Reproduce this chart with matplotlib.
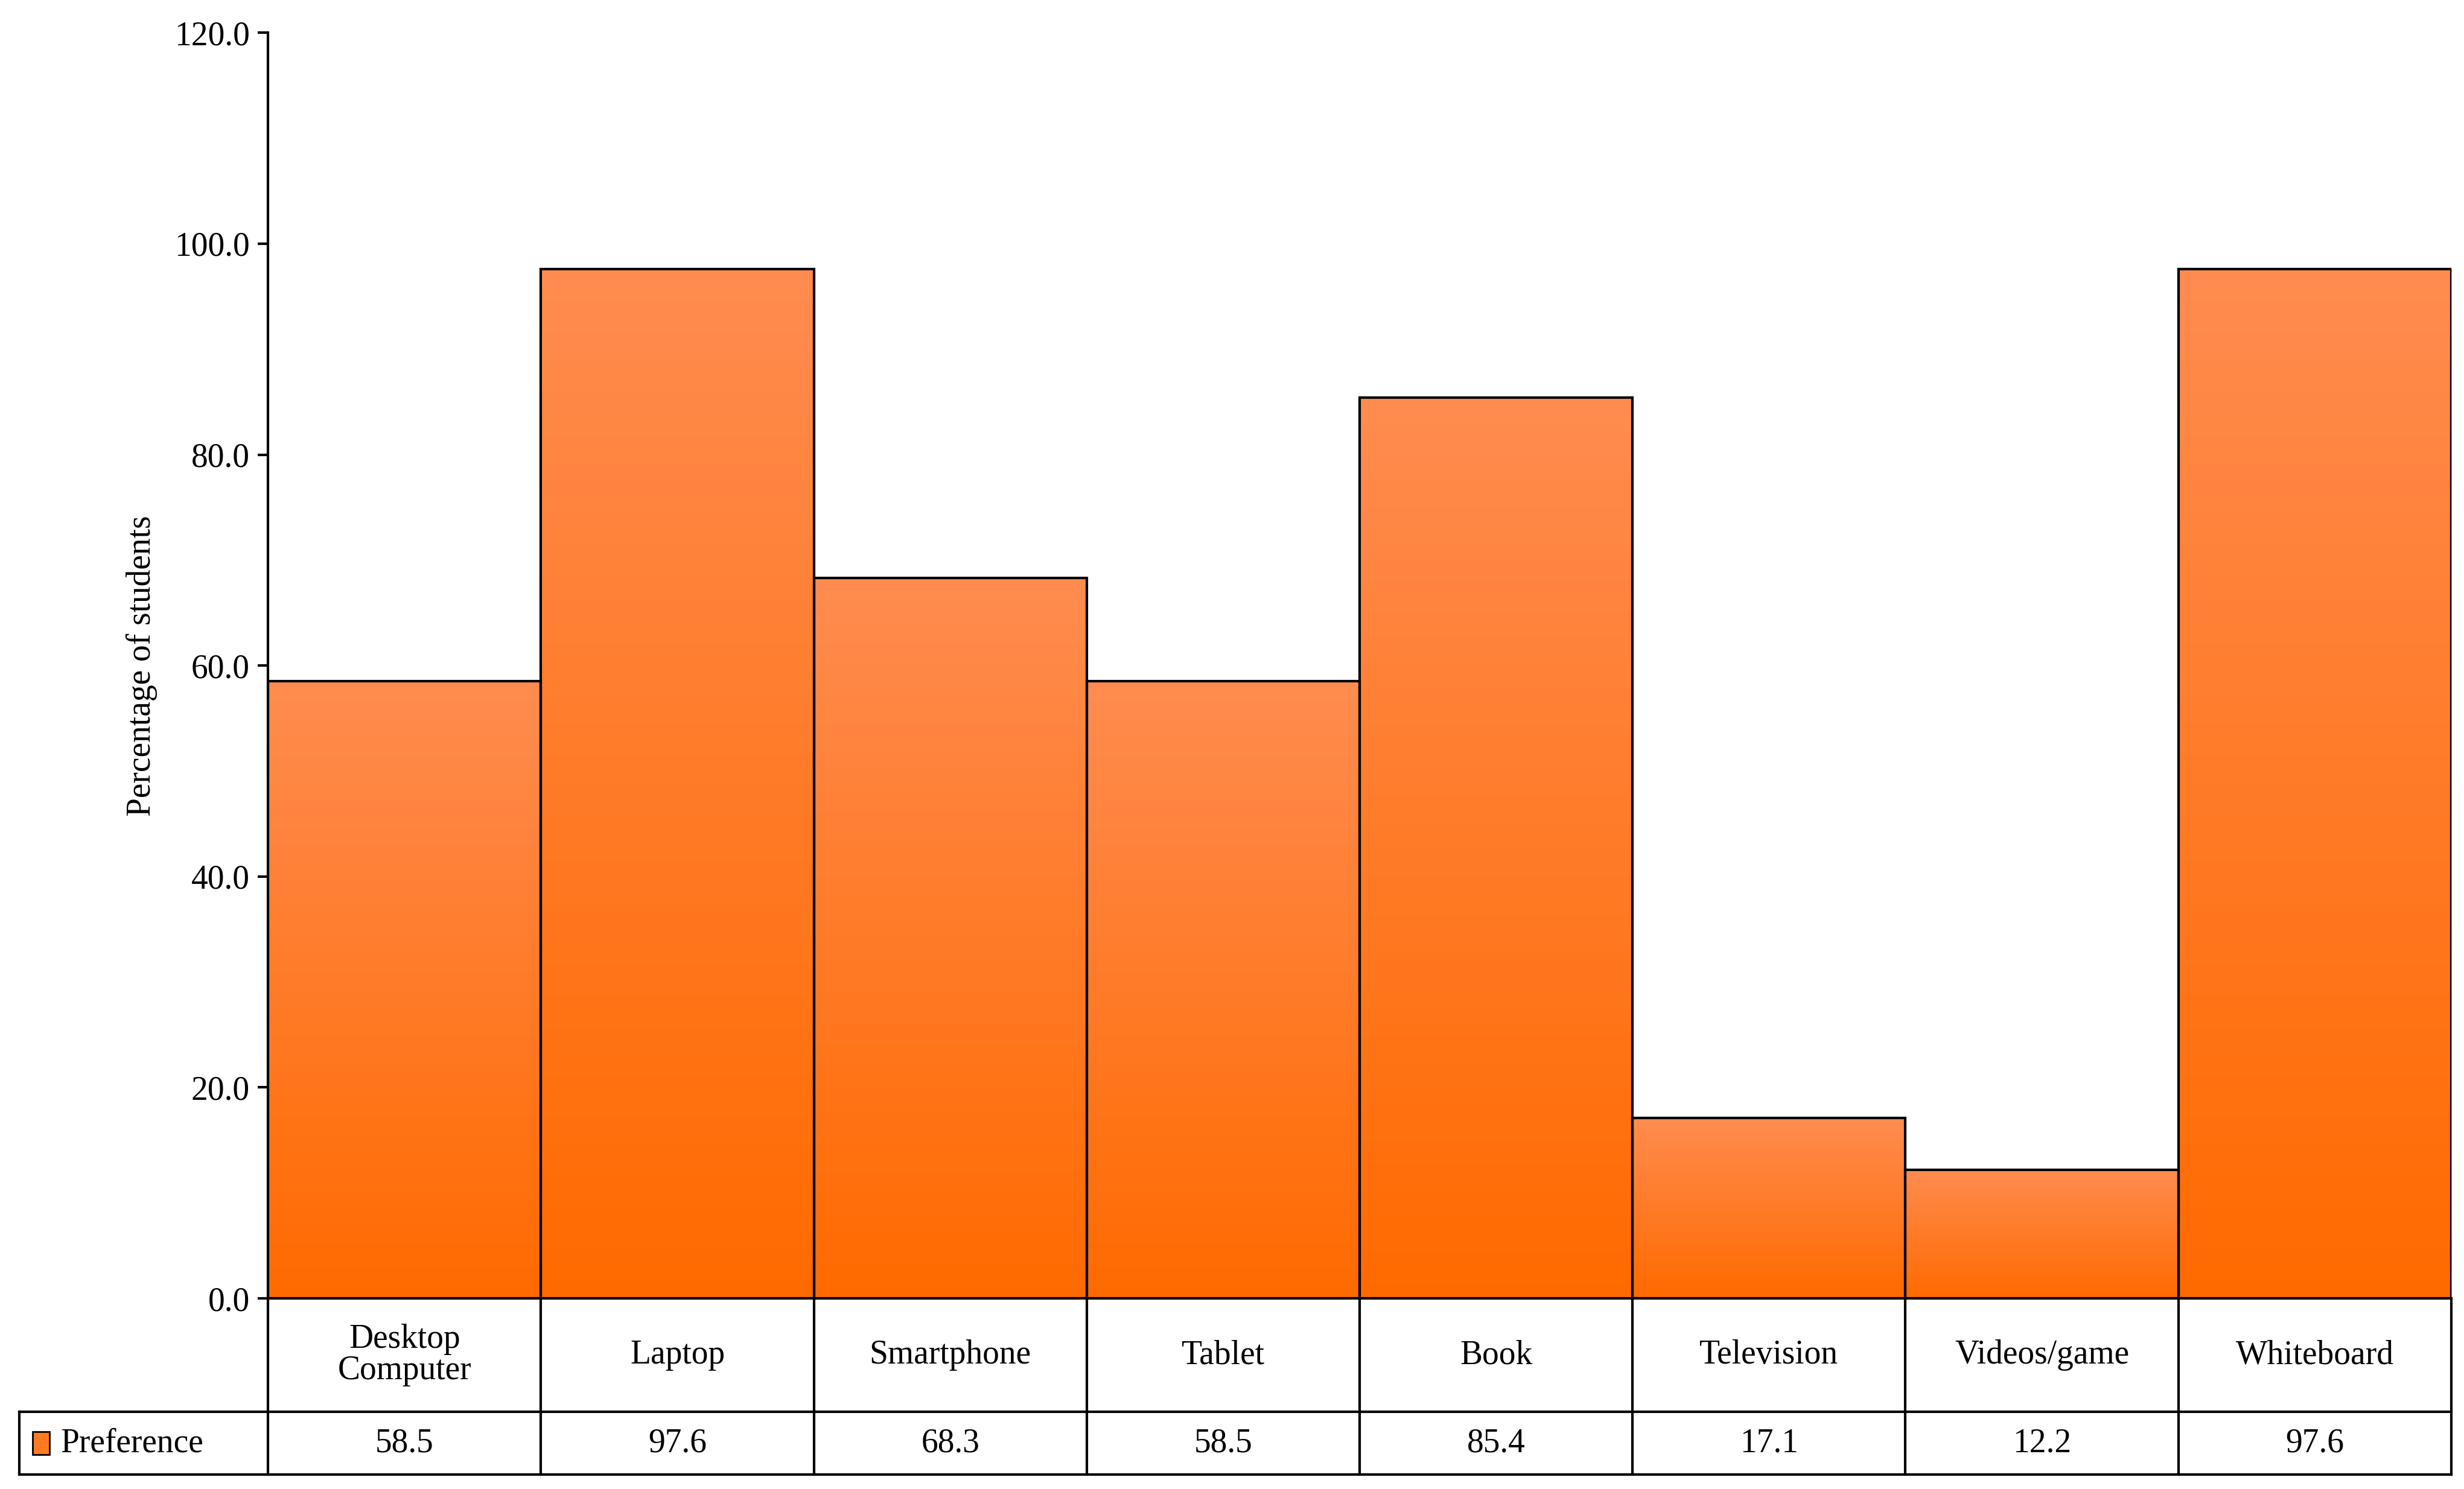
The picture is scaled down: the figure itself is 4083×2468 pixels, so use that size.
import numpy as np
import matplotlib.pyplot as plt
from matplotlib.colors import LinearSegmentedColormap
from matplotlib.patches import Rectangle

categories = ['Desktop\nComputer', 'Laptop', 'Smartphone', 'Tablet', 'Book',
              'Television', 'Videos/game', 'Whiteboard']
values = [58.5, 97.6, 68.3, 58.5, 85.4, 17.1, 12.2, 97.6]
series_name = 'Preference'

plt.rcParams['font.family'] = ['Liberation Serif', 'DejaVu Serif']

fig = plt.figure(figsize=(40.83, 24.68), dpi=100)
ax = fig.add_axes([0.1088, 0.128, 0.886, 0.850])

cmap = LinearSegmentedColormap.from_list('og', ['#ff6a00', '#ff8c50'])
grad = np.linspace(0, 1, 256).reshape(-1, 1)
n = len(values)
for i, v in enumerate(values):
    ax.imshow(grad, extent=[i - 0.5, i + 0.5, 0, v], origin='lower',
              cmap=cmap, aspect='auto', zorder=1)
ax.bar(range(n), values, width=1.0, facecolor='none', edgecolor='black',
       linewidth=3, zorder=2)

ax.set_xlim(-0.5, n - 0.5)
ax.set_ylim(0, 120)
ax.set_yticks(np.arange(0, 121, 20))
ax.set_yticklabels([f'{t:.1f}' for t in np.arange(0, 121, 20)])
ax.tick_params(axis='y', labelsize=40, length=12, width=3, pad=10)
ax.set_xticks([])
ax.set_ylabel('Percentage of students', fontsize=40, labelpad=20)
for s in ['top', 'right']:
    ax.spines[s].set_visible(False)
for s in ['left', 'bottom']:
    ax.spines[s].set_linewidth(3)

# data table under the axis
tr = ax.transAxes
r1 = -0.0896
r2 = -0.1393
leg_left = -0.114
kw = dict(transform=tr, clip_on=False, color='black', linewidth=3)
for i in range(n + 1):
    xf = i / n
    ax.plot([xf, xf], [0, r2], **kw)
ax.plot([leg_left, 1], [r1, r1], **kw)
ax.plot([leg_left, 1], [r2, r2], **kw)
ax.plot([leg_left, leg_left], [r1, r2], **kw)

for i, (c, v) in enumerate(zip(categories, values)):
    xc = (i + 0.5) / n
    ax.text(xc, r1 / 2, c, transform=tr, ha='center', va='center',
            fontsize=40, linespacing=1.0)
    ax.text(xc, (r1 + r2) / 2, f'{v:.1f}', transform=tr, ha='center',
            va='center', fontsize=40)

ax.add_patch(Rectangle((leg_left + 0.006, (r1 + r2) / 2 - 0.009), 0.008, 0.018,
                       transform=tr, clip_on=False, facecolor='#ff7a20',
                       edgecolor='black', linewidth=2))
ax.text(leg_left + 0.019, (r1 + r2) / 2, series_name, transform=tr,
        ha='left', va='center', fontsize=40)

fig.savefig('out.png', dpi=100)
